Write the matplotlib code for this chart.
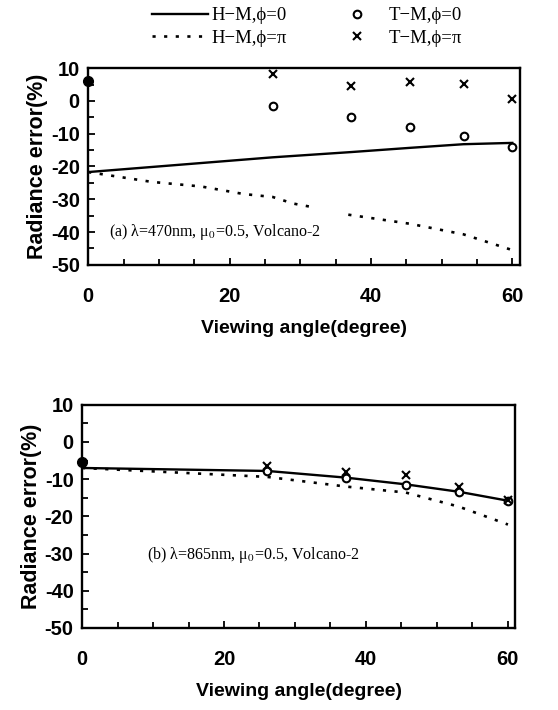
import matplotlib
matplotlib.use("Agg")
import matplotlib.pyplot as plt
import numpy as np
from matplotlib.lines import Line2D
from matplotlib.ticker import MultipleLocator

plt.rcParams['mathtext.fontset'] = 'stix'
plt.rcParams['axes.unicode_minus'] = False

# viewing angles of the T-M points
angles = [26.1, 37.2, 45.6, 53.1, 60.0]
line_angles = [0, 26.1, 37.2, 45.6, 53.1, 60.0]

# panel (a): 470 nm
hm0_a = [-21.7, -17.2, -15.6, -14.3, -13.2, -12.8]
hmpi_x_a = [0, 9, 16, 22, 26.1, 29, 32, np.nan, 36.8, 45.6, 53.1, 60.0]
hmpi_a = [-21.7, -24.7, -26.1, -28.4, -29.3, -31.3, -32.5, np.nan, -34.7, -37.5, -40.7, -45.5]
tm0_a = [-1.6, -5.0, -7.8, -10.7, -13.9]
tmpi_a = [8.2, 4.6, 5.9, 5.3, 0.5]
nadir_a = 6.0

# panel (b): 865 nm
hm0_b = [-7.0, -7.8, -9.6, -11.4, -13.4, -15.8]
hmpi_x_b = [0, 12, 26.1, 37.2, 45.6, 53.1, 60.0]
hmpi_b = [-7.0, -8.1, -9.4, -12.0, -13.6, -17.4, -22.2]
tm0_b = [-7.9, -9.6, -11.5, -13.4, -16.0]
tmpi_b = [-6.6, -8.2, -9.0, -12.0, -15.6]
nadir_b = -5.3

sans = 'Liberation Sans'
serif = 'Liberation Serif'
dots = (0, (1.2, 3.2))


def drawPanel(ax, hm0, hmpi_x, hmpi, tm0, tmpi, nadir, note, note_xy, xmax):
    ax.plot(line_angles, hm0, color='black', lw=1.7)
    ax.plot(hmpi_x, hmpi, color='black', lw=1.9, linestyle=dots)
    ax.plot(angles, tm0, linestyle='none', marker='o', ms=5.5, mfc='white',
            mec='black', mew=1.5, clip_on=False)
    ax.plot(angles, tmpi, linestyle='none', marker='x', ms=5.5, color='black',
            mew=1.5, clip_on=False)
    ax.plot([0], [nadir], linestyle='none', marker='o', ms=7, color='black', clip_on=False)

    ax.set_xlim(0, xmax)
    ax.set_ylim(-50, 10)
    ax.xaxis.set_major_locator(MultipleLocator(20))
    ax.xaxis.set_minor_locator(MultipleLocator(5))
    ax.yaxis.set_major_locator(MultipleLocator(10))
    ax.yaxis.set_minor_locator(MultipleLocator(5))
    ax.tick_params(which='both', direction='in', width=1.3)
    ax.tick_params(which='major', length=5)
    ax.tick_params(which='minor', length=4)
    ax.tick_params(axis='x', which='major', pad=16)
    ax.tick_params(axis='y', which='major', pad=6)
    for lab in ax.get_xticklabels() + ax.get_yticklabels():
        lab.set_fontfamily(sans)
        lab.set_fontweight('bold')
        lab.set_fontsize(14.5)
    for sp in ax.spines.values():
        sp.set_linewidth(1.7)

    ax.set_xlabel("Viewing angle(degree)", family=sans, weight='bold', fontsize=14, labelpad=10)
    ax.set_ylabel("Radiance error(%)", family=sans, weight='bold', fontsize=15.5, labelpad=2)
    ax.text(note_xy[0], note_xy[1], note, family=serif, fontsize=11.5, va='center')


def main():
    fig = plt.figure(figsize=(5.58, 7.1), dpi=100)
    ax1 = fig.add_axes([0.158, 0.627, 0.774, 0.277])
    ax2 = fig.add_axes([0.147, 0.1155, 0.776, 0.3145])

    drawPanel(ax1, hm0_a, hmpi_x_a, hmpi_a, tm0_a, tmpi_a, nadir_a,
              "(a) λ=470nm, μ$_0$=0.5, Volcano-2", (3, -40), 61.1)
    drawPanel(ax2, hm0_b, hmpi_x_b, hmpi_b, tm0_b, tmpi_b, nadir_b,
              "(b) λ=865nm, μ$_0$=0.5, Volcano-2", (9.2, -30.5), 61.0)

    handles = [
        Line2D([], [], color='black', lw=1.7),
        Line2D([], [], color='black', lw=1.9, linestyle=dots),
        Line2D([], [], linestyle='none', marker='o', ms=5.5, mfc='white', mec='black', mew=1.5),
        Line2D([], [], linestyle='none', marker='x', ms=5.5, color='black', mew=1.5),
    ]
    labels = ["H−M,ϕ=0", "H−M,ϕ=π", "T−M,ϕ=0", "T−M,ϕ=π"]
    fig.legend(handles, labels, ncol=2, loc='upper left', bbox_to_anchor=(0.272, 0.99),
               frameon=False, prop={'family': serif, 'size': 13.5}, handlelength=3.0,
               handletextpad=0.2, columnspacing=2.2, labelspacing=0.3,
               borderpad=0, borderaxespad=0)

    fig.savefig('out.png', dpi=100)


main()
